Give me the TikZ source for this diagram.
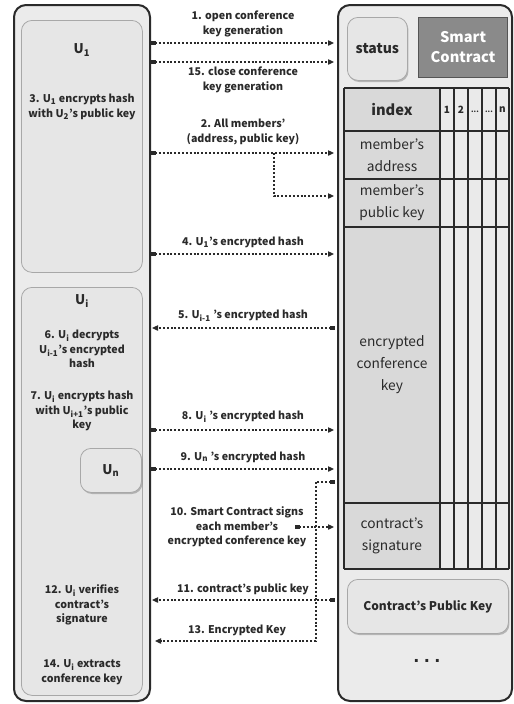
\documentclass[tikz,border=0pt]{standalone}
\usepackage{fontspec}
\setmainfont{Noto Sans CJK KR}
\newfontfamily\dotfont{DejaVu Sans}
\usetikzlibrary{arrows.meta,shadows}
\definecolor{outfill}{HTML}{EBEBEB}
\definecolor{infill}{HTML}{E6E6E6}
\definecolor{inborder}{HTML}{A8A8A8}
\definecolor{dark}{HTML}{2A2A2A}
\definecolor{scfill}{HTML}{8A8A8A}
\definecolor{colA}{HTML}{D9D9D9}
\definecolor{colB}{HTML}{EAEAEA}
\begin{document}
\begin{tikzpicture}[x=0.75pt,y=-0.75pt,
  outerbox/.style={draw=dark, line width=1.5pt, fill=outfill, rounded corners=9pt, inner sep=0pt, anchor=north west},
  innerbox/.style={draw=inborder, line width=0.6pt, fill=infill, rounded corners=8pt, inner sep=0pt, anchor=north west},
  shadowbox/.style={draw=inborder, line width=0.6pt, fill=infill, rounded corners=8pt, inner sep=0pt, anchor=north west,
     drop shadow={shadow xshift=0.8pt, shadow yshift=-1.2pt, opacity=0.4, fill=black!60}},
  lbl/.style={font=\fontsize{8}{11}\bfseries\selectfont, text=dark, align=center, inner sep=0pt},
  cell/.style={font=\fontsize{10.3}{16.5}\selectfont, text=dark, align=center, inner sep=0pt},
  hdr/.style={font=\fontsize{7.5}{8}\bfseries\selectfont, text=dark, inner sep=0pt},
  hdrdots/.style={font=\fontsize{5.5}{8}\bfseries\selectfont, text=dark, inner sep=0pt},
  flow/.style={draw=dark, line width=0.9pt, dash pattern=on 1.5pt off 1.4pt,
     {Square[length=3.4pt,width=3.4pt]}-{Triangle[length=4.5pt,width=4pt]}},
  flowtip/.style={draw=dark, line width=0.9pt, dash pattern=on 1.5pt off 1.4pt,
     -{Triangle[length=4.5pt,width=4pt]}},
  tline/.style={draw=dark, line width=1pt}
]
\useasboundingbox (0,0) rectangle (514,704);

% outer boxes
\node[outerbox, minimum width=102pt, minimum height=522pt] (L) at (13,4) {};
\node[outerbox, minimum width=130.5pt, minimum height=522pt] (R) at (337,4) {};

% left inner boxes
\node[innerbox, minimum width=90.75pt, minimum height=189pt] (U1box) at (21,20) {};
\node[innerbox, minimum width=90.75pt, minimum height=306pt] (Uibox) at (21,287) {};
\node[shadowbox, minimum width=45.75pt, minimum height=33pt] (Un) at (80,448) {};
\node[font=\fontsize{10}{12}\bfseries\selectfont, text=dark] (UnT) at (Un.center) {U\textsubscript{n}};

\node[font=\fontsize{10}{12}\bfseries\selectfont, text=dark] (U1t) at (82,50) {U\textsubscript{1}};
\node[lbl, align=center] (t3) at (82,107) {3. U\textsubscript{1} encrypts hash\\with U\textsubscript{2}'s public key};
\node[font=\fontsize{10}{12}\bfseries\selectfont, text=dark] (Uit) at (82,301) {U\textsubscript{i}};
\node[lbl] (t6) at (82,349) {6. U\textsubscript{i} decrypts\\U\textsubscript{i-1}'s encrypted\\hash};
\node[lbl] (t7) at (82,411) {7. U\textsubscript{i} encrypts hash\\with U\textsubscript{i+1}'s public\\key};
\node[lbl] (t12) at (82,605) {12. U\textsubscript{i} verifies\\contract's\\signature};
\node[lbl] (t14) at (82,672) {14. U\textsubscript{i} extracts\\conference key};

% right top boxes
\node[shadowbox, minimum width=45pt, minimum height=47.25pt] (status) at (347,17) {};
\node[font=\fontsize{10.5}{12}\bfseries\selectfont, text=dark] (statusT) at (status.center) {status};
\node[draw=dark!80, line width=0.8pt, fill=scfill, inner sep=0pt, anchor=north west,
      minimum width=66.75pt, minimum height=45pt] (SC) at (418,17) {};
\node[font=\fontsize{11}{15}\bfseries\selectfont, text=white, align=center] (SCT) at (SC.center) {Smart\\Contract};

% table
\fill[colA] (344,88) rectangle (440,569);
\fill[colB] (440,88) rectangle (509,569);
\foreach \yy in {88,131,179,227,503,569} \draw[tline] (344,\yy) -- (509,\yy);
\foreach \xx in {344,440,454,468,482,496,509} \draw[tline] (\xx,88) -- (\xx,569);
\node[font=\fontsize{11}{13}\bfseries\selectfont, text=dark] (idx) at (392,110) {index};
\node[hdr] (h1) at (447,110) {1};
\node[hdr] (h2) at (461,110) {2};
\node[hdrdots] (h3) at (475,111.5) {...};
\node[hdrdots] (h4) at (489,111.5) {...};
\node[hdr] (h5) at (502.5,110) {n};
\node[cell] (addr) at (392,155) {member's\\address};
\node[cell] (pub) at (392,203) {member's\\public key};
\node[cell] (enc) at (392,365) {encrypted\\conference\\key};
\node[cell] (sig) at (392,536) {contract's\\signature};

\node[shadowbox, minimum width=120.75pt, minimum height=40.5pt] (CPK) at (347,579) {};
\node[font=\fontsize{9}{11}\bfseries\selectfont, text=dark] (CPKT) at (CPK.center) {Contract's Public Key};
\node[font=\dotfont\fontsize{12}{14}\bfseries\selectfont, text=dark] (dots) at (427,661) {.\hspace{3.3pt}.\hspace{3.3pt}.};

% connector end points
\coordinate (a1s) at (151,43);  \coordinate (a1e) at (334,43);
\coordinate (a15s) at (151,62); \coordinate (a15e) at (334,62);
\coordinate (a2s) at (151,153); \coordinate (a2e) at (334,153);
\coordinate (a2b) at (274,153); \coordinate (a2c) at (274,196); \coordinate (a2d) at (334,196);
\coordinate (a4s) at (151,254); \coordinate (a4e) at (334,254);
\coordinate (a5s) at (335,328); \coordinate (a5e) at (152,328);
\coordinate (a8s) at (151,430); \coordinate (a8e) at (334,430);
\coordinate (a9s) at (151,469); \coordinate (a9e) at (334,469);
\coordinate (a13s) at (335,482); \coordinate (a13b) at (316,482); \coordinate (a13c) at (316,641); \coordinate (a13e) at (155,641);
\coordinate (a10s) at (295,527); \coordinate (a10e) at (334,527);
\coordinate (a11s) at (335,600); \coordinate (a11e) at (152,600);

\draw[flow] (a1s) -- (a1e);
\draw[flow] (a15s) -- (a15e);
\draw[flow] (a2s) -- (a2e);
\draw[flowtip] (a2b) -- (a2c) -- (a2d);
\draw[flow] (a4s) -- (a4e);
\draw[flow] (a5s) -- (a5e);
\draw[flow] (a8s) -- (a8e);
\draw[flow] (a9s) -- (a9e);
\draw[flow] (a13s) -- (a13b) -- (a13c) -- (a13e);
\draw[flow] (a10s) -- (a10e);
\draw[flow] (a11s) -- (a11e);

% connector labels
\node[lbl] (l1) at (243,24) {1. open conference\\key generation};
\node[lbl] (l15) at (243,80) {15. close conference\\key generation};
\node[lbl] (l2) at (243,132) {2. All members'\\(address, public key)};
\node[lbl] (l4) at (243,242) {4. U\textsubscript{1}'s encrypted hash};
\node[lbl] (l5) at (243,316) {5. U\textsubscript{i-1} 's encrypted hash};
\node[lbl] (l8) at (243,417) {8. U\textsubscript{i} 's encrypted hash};
\node[lbl] (l9) at (243,457) {9. U\textsubscript{n} 's encrypted hash};
\node[lbl] (l10) at (237,527) {10. Smart Contract signs\\each member's\\encrypted conference key};
\node[lbl] (l11) at (243,589) {11. contract's public key};
\node[lbl] (l13) at (237,630) {13. Encrypted Key};
\end{tikzpicture}
\end{document}
